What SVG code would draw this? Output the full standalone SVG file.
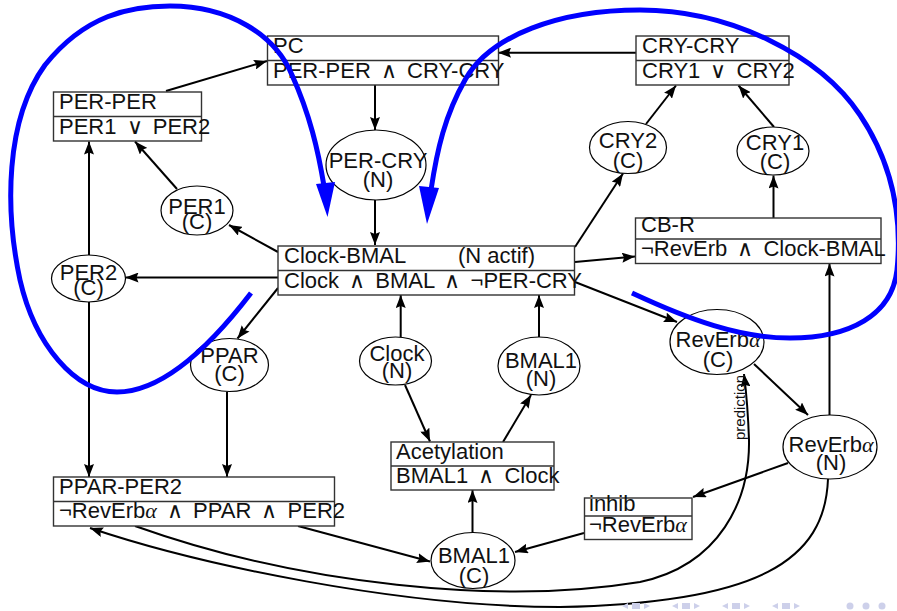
<svg xmlns="http://www.w3.org/2000/svg" width="897" height="611" viewBox="0 0 897 611">
<style>
  .box rect{fill:#fff;stroke:#333;stroke-width:1.4}
  .box line{stroke:#333;stroke-width:1.4}
  .node ellipse{fill:#fff;stroke:#000;stroke-width:1.2}
  text{font-family:"Liberation Sans","DejaVu Sans",sans-serif;font-size:22px;fill:#111}
  .node text{text-anchor:middle}
  .m{word-spacing:4px}
  .o{font-family:"DejaVu Sans",sans-serif;font-weight:200;font-size:22px}
  .a{font-family:"Liberation Serif","DejaVu Serif",serif;font-style:italic}
  .edge{stroke:#000;stroke-width:2;fill:none;marker-end:url(#ah)}
  .blue{stroke:#0000ff;stroke-width:5;fill:none}
  .bh{fill:#0000ff}
  .lbl{font-size:15px;fill:#111}
  .nav{fill:#cdd0ea}
</style>
<defs>
  <marker id="ah" viewBox="0 0 13 10" refX="13" refY="5" markerWidth="13" markerHeight="10" markerUnits="userSpaceOnUse" orient="auto">
    <path d="M0,0 L13,5 L0,10 L2,5 z" fill="#000"/>
  </marker>
</defs>
<rect width="897" height="611" fill="#fff"/>

<g id="connectors">
  <path class="edge" d="M166,91 L267,61"/>
  <path class="edge" d="M636,52.7 L498,52.7"/>
  <path class="edge" d="M375,85 L375,130"/>
  <path class="edge" d="M375,200 L375,245"/>
  <path class="edge" d="M177,189 L135,141.5"/>
  <path class="edge" d="M89,255 L89,141.5"/>
  <path class="edge" d="M278,252 L229,225"/>
  <path class="edge" d="M278,277.5 L125.5,277.5"/>
  <path class="edge" d="M278,288 L237.5,338.5"/>
  <path class="edge" d="M89,302 L89,477"/>
  <path class="edge" d="M227,392 L227,477"/>
  <path class="edge" d="M400.7,337 L400.7,295"/>
  <path class="edge" d="M539,337.5 L539,295"/>
  <path class="edge" d="M405,385 L430,441.5"/>
  <path class="edge" d="M503,442 L531,395"/>
  <path class="edge" d="M472.5,532.5 L472.5,490"/>
  <path class="edge" d="M298,526 L430,561.5"/>
  <path class="edge" d="M584,533 L515,552"/>
  <path class="edge" d="M788,463 L693,497"/>
  <path class="edge" d="M575,247 L623,173.5"/>
  <path class="edge" d="M646,124 L676,85.5"/>
  <path class="edge" d="M774,127 L738.5,85.5"/>
  <path class="edge" d="M773.5,218 L773.5,175.5"/>
  <path class="edge" d="M575,262 L635,256.5"/>
  <path class="edge" d="M575,282 L677,322"/>
  <path class="edge" d="M754,364 L808,415"/>
  <path class="edge" d="M829.5,415 L829.5,263.5"/>
  <path class="edge" d="M828,479 C825,560 760,603 560,607 C400,607 200,565 90,528"/>
  <path class="edge" d="M135,526 C300,585 500,605 640,582 C720,565 750,500 749,440 C748,410 746,390 744,374"/>
  <text class="lbl" transform="translate(745,440) rotate(-90)">prediction</text>
</g>

<g id="PC" class="box">
  <rect x="267.5" y="36" width="231" height="49"/>
  <line x1="267.5" y1="60.5" x2="498.5" y2="60.5"/>
  <text x="273" y="53">PC</text>
  <text class="m" x="273" y="78">PER-PER <tspan class="o">∧</tspan> CRY-CRY</text>
</g>
<g id="CRY-CRY" class="box">
  <rect x="636" y="36" width="153" height="49"/>
  <line x1="636" y1="60.5" x2="789" y2="60.5"/>
  <text x="642" y="53">CRY-CRY</text>
  <text class="m" x="642" y="78">CRY1 <tspan class="o">∨</tspan> CRY2</text>
</g>
<g id="PER-PER" class="box">
  <rect x="53.5" y="92" width="148" height="49"/>
  <line x1="53.5" y1="116.5" x2="201.5" y2="116.5"/>
  <text x="59" y="109">PER-PER</text>
  <text class="m" x="59" y="134">PER1 <tspan class="o">∨</tspan> PER2</text>
</g>
<g id="Clock-BMAL" class="box">
  <rect x="278" y="246" width="296.5" height="49"/>
  <line x1="278" y1="270.5" x2="574.5" y2="270.5"/>
  <text x="284" y="263">Clock-BMAL</text>
  <text x="458" y="263">(N actif)</text>
  <text class="m" x="284" y="288">Clock <tspan class="o">∧</tspan> BMAL <tspan class="o">∧</tspan> ¬PER-CRY</text>
</g>
<g id="CB-R" class="box">
  <rect x="635.5" y="218" width="245.5" height="45.5"/>
  <line x1="635.5" y1="239" x2="881" y2="239"/>
  <text x="641" y="232">CB-R</text>
  <text class="m" x="641" y="256">¬RevErb <tspan class="o">∧</tspan> Clock-BMAL</text>
</g>
<g id="PPAR-PER2" class="box">
  <rect x="53.5" y="477" width="281" height="49"/>
  <line x1="53.5" y1="501.5" x2="334.5" y2="501.5"/>
  <text x="59" y="494">PPAR-PER2</text>
  <text class="m" x="59" y="518">¬RevErb<tspan class="a">α</tspan> <tspan class="o">∧</tspan> PPAR <tspan class="o">∧</tspan> PER2</text>
</g>
<g id="Acetylation" class="box">
  <rect x="391" y="442" width="163" height="48"/>
  <line x1="391" y1="466" x2="554" y2="466"/>
  <text x="396" y="459">Acetylation</text>
  <text class="m" x="396" y="483">BMAL1 <tspan class="o">∧</tspan> Clock</text>
</g>
<g id="inhib" class="box">
  <rect x="584.5" y="498" width="107.5" height="41.5"/>
  <line x1="584.5" y1="516" x2="692" y2="516"/>
  <text x="589" y="511">inhib</text>
  <text x="589" y="532">¬RevErb<tspan class="a">α</tspan></text>
</g>

<g id="PER-CRY" class="node">
  <ellipse cx="376" cy="165" rx="50" ry="35"/>
  <text x="378" y="168">PER-CRY</text>
  <text x="378" y="186.5">(N)</text>
</g>
<g id="PER1" class="node">
  <ellipse cx="197" cy="210.5" rx="36" ry="24.5"/>
  <text x="197" y="214">PER1</text>
  <text x="197" y="228.5">(C)</text>
</g>
<g id="PER2" class="node">
  <ellipse cx="88.5" cy="278.5" rx="37" ry="23.5"/>
  <text x="88.5" y="280">PER2</text>
  <text x="88.5" y="295">(C)</text>
</g>
<g id="PPAR" class="node">
  <ellipse cx="229.5" cy="365" rx="39" ry="26.5"/>
  <text x="229.5" y="363">PPAR</text>
  <text x="229.5" y="381">(C)</text>
</g>
<g id="Clock" class="node">
  <ellipse cx="395.5" cy="361" rx="36" ry="24"/>
  <text x="397" y="361">Clock</text>
  <text x="397" y="378">(N)</text>
</g>
<g id="BMAL1N" class="node">
  <ellipse cx="539" cy="366" rx="41" ry="29"/>
  <text x="541" y="368">BMAL1</text>
  <text x="541" y="386">(N)</text>
</g>
<g id="CRY2" class="node">
  <ellipse cx="628" cy="147.5" rx="38.5" ry="26"/>
  <text x="628" y="148">CRY2</text>
  <text x="628" y="168">(C)</text>
</g>
<g id="CRY1" class="node">
  <ellipse cx="773" cy="151" rx="36" ry="24"/>
  <text x="775" y="150">CRY1</text>
  <text x="775" y="169">(C)</text>
</g>
<g id="RevErbC" class="node">
  <ellipse cx="717" cy="342" rx="47" ry="32.5"/>
  <text x="718" y="347">RevErb<tspan class="a">α</tspan></text>
  <text x="718" y="366.5">(C)</text>
</g>
<g id="RevErbN" class="node">
  <ellipse cx="830" cy="447" rx="47" ry="32"/>
  <text x="831" y="452">RevErb<tspan class="a">α</tspan></text>
  <text x="831" y="470">(N)</text>
</g>
<g id="BMAL1C" class="node">
  <ellipse cx="473" cy="560.5" rx="42" ry="28"/>
  <text x="474" y="563">BMAL1</text>
  <text x="474" y="583">(C)</text>
</g>

<g id="blue-loops">
  <path class="blue" d="M251,293 C215,340 165,392 117,392 C75,392 35,345 20,280 C5,210 5,120 45,65 C85,15 130,6 170,6 C230,6 275,35 292,75 C310,115 318,150 324,186"/>
  <polygon class="bh" points="316,184 335,182 327.5,217"/>
  <path class="blue" d="M632,293 C690,320 740,338 790,338 C850,338 892,315 897,270 C903,210 890,160 860,115 C820,55 730,10 640,10 C560,10 490,35 465,80 C445,115 437,150 431,190"/>
  <polygon class="bh" points="419,186 439,188 427,224"/>
</g>

<g id="nav">
  <polygon class="nav" points="622,606 628,603 628,609"/>
  <rect class="nav" x="632" y="603" width="8" height="6"/>
  <polygon class="nav" points="644,603 650,606 644,609"/>
  <polygon class="nav" points="672,606 678,603 678,609"/>
  <rect class="nav" x="682" y="603" width="8" height="6"/>
  <polygon class="nav" points="694,603 700,606 694,609"/>
  <polygon class="nav" points="722,606 728,603 728,609"/>
  <rect class="nav" x="732" y="603" width="8" height="6"/>
  <polygon class="nav" points="744,603 750,606 744,609"/>
  <polygon class="nav" points="772,606 778,603 778,609"/>
  <rect class="nav" x="782" y="603" width="8" height="6"/>
  <polygon class="nav" points="794,603 800,606 794,609"/>
  <circle class="nav" cx="850" cy="606" r="3.5"/>
  <circle class="nav" cx="866" cy="606" r="3.5"/>
  <circle class="nav" cx="882" cy="606" r="3.5"/>
</g>
</svg>
